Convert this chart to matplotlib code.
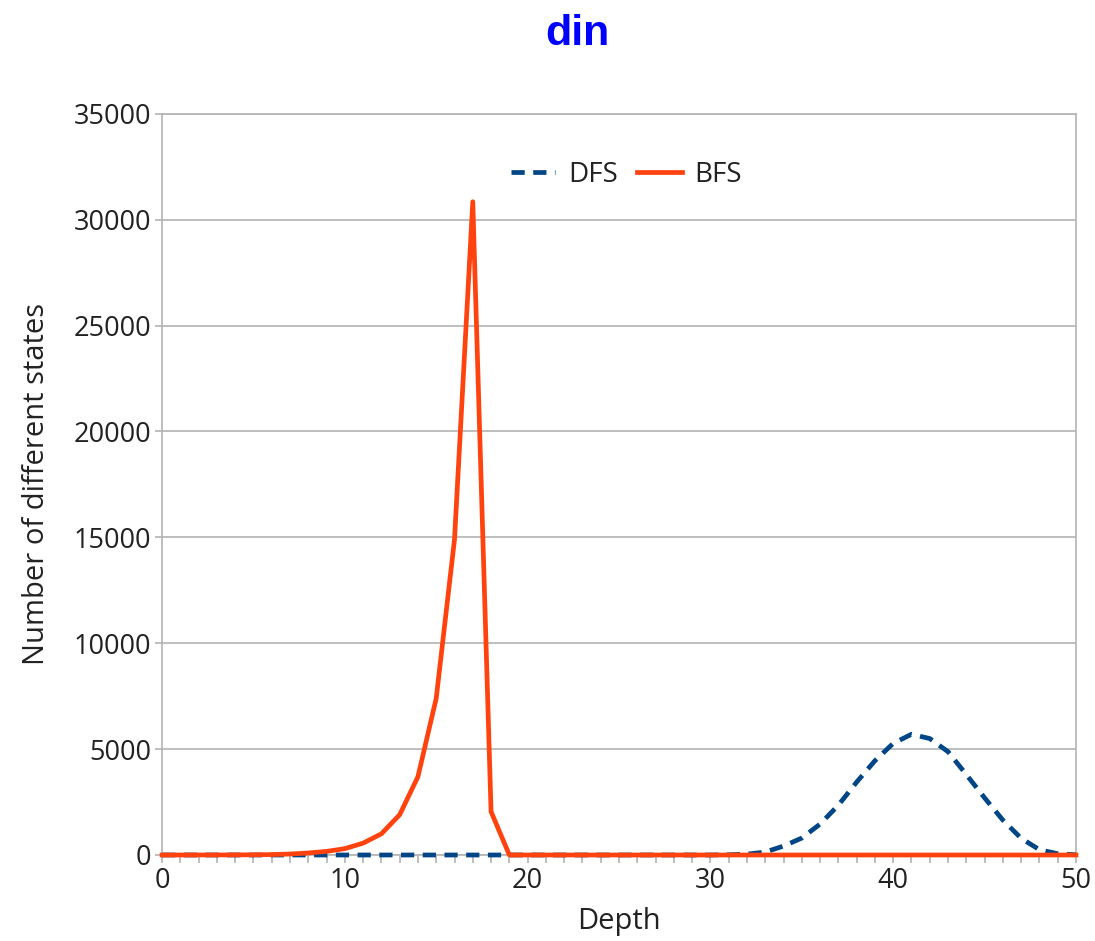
"""
Number of different states per depth, DFS vs BFS ("din").
"""

import numpy as np
import matplotlib.pyplot as plt
from matplotlib.ticker import MultipleLocator

depth = np.arange(0, 51)

# BFS: number of states at each depth
bfs = [0, 0, 1, 2, 5, 10, 20, 45, 95, 170,
       300, 560, 1000, 1900, 3700, 7400, 14900, 30850, 2050, 0,
       0, 0, 0, 0, 0, 0, 0, 0, 0, 0,
       0, 0, 0, 0, 0, 0, 0, 0, 0, 0,
       0, 0, 0, 0, 0, 0, 0, 0, 0, 0,
       0]

# DFS: zero until about depth 30, then a bump around 41
dfs = [0, 0, 0, 0, 0, 0, 0, 0, 0, 0,
       0, 0, 0, 0, 0, 0, 0, 0, 0, 0,
       0, 0, 0, 0, 0, 0, 0, 0, 0, 0,
       0, 10, 40, 140, 420, 800, 1460, 2350, 3440, 4450,
       5270, 5700, 5500, 4880, 3800, 2700, 1650, 790, 250, 60,
       10]

text_color = "#222222"
grid_color = "#b3b3b3"
font = ["Open Sans", "DejaVu Sans"]

fig = plt.figure(figsize=(10.95, 9.41), dpi=100)
ax = fig.add_axes([0.148, 0.0914, 0.8346, 0.7876])

ax.plot(depth, dfs, color="#004586", lw=3.4, linestyle=(0, (2.8, 1.8)),
        dash_capstyle="butt", label="DFS", zorder=3, clip_on=False)
ax.plot(depth, bfs, color="#ff420e", lw=3.4, label="BFS", zorder=4,
        solid_joinstyle="round", clip_on=False)

ax.set_xlim(0, 50)
ax.set_ylim(0, 35000)
ax.xaxis.set_major_locator(MultipleLocator(10))
ax.xaxis.set_minor_locator(MultipleLocator(1))
ax.yaxis.set_major_locator(MultipleLocator(5000))

ax.grid(axis="y", color=grid_color, lw=1.2)
ax.set_axisbelow(True)
for side in ax.spines.values():
    side.set_color(grid_color)
    side.set_linewidth(1.2)

ax.tick_params(axis="both", which="both", color=grid_color, direction="out",
               labelcolor=text_color, labelsize=19.5)
ax.tick_params(axis="x", which="both", length=6, width=1.2, pad=3)
ax.tick_params(axis="y", length=5, width=1.2, pad=3)
for lab in ax.get_xticklabels() + ax.get_yticklabels():
    lab.set_family(font)

ax.set_xlabel("Depth", fontsize=21, color=text_color, family=font, labelpad=8)
ax.set_ylabel("Number of different states", fontsize=21, color=text_color,
              family=font, labelpad=16)

leg = ax.legend(loc="center", bbox_to_anchor=(0.508, 0.918), ncol=2,
                frameon=False, handlelength=1.6,
                columnspacing=0.7, handletextpad=0.45,
                prop={"family": font, "size": 20})
for t in leg.get_texts():
    t.set_color(text_color)

fig.suptitle("din", x=0.527, y=0.985, fontsize=31, fontweight="bold",
             color="#0000ff", family=["Liberation Sans", "DejaVu Sans"])

fig.savefig("out.png", dpi=100)
